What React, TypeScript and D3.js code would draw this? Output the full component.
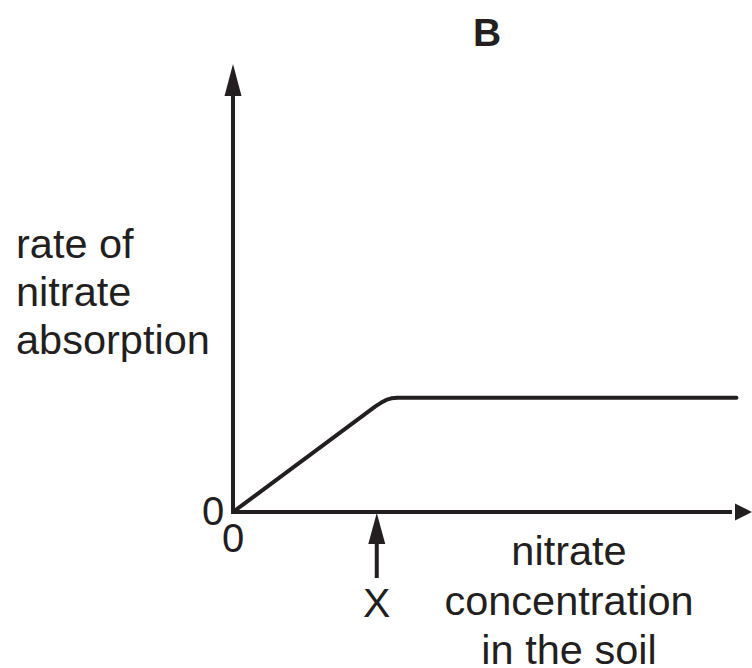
import * as d3 from 'd3';

// curve (arbitrary units)
const concentration = [0, 2.75, 2.85, 2.95, 3.05, 3.17, 9.7];
const absorption = [0, 0.2362, 0.2437, 0.2502, 0.2538, 0.255, 0.255];
const markX = 2.77;
const title = 'B';
const yLabel = ['rate of', 'nitrate', 'absorption'];
const xLabel = ['nitrate', 'concentration', 'in the soil'];

const W = 752;
const H = 668;
const ink = '#231f20';
const font = '"Liberation Sans", Arial, sans-serif';

function App() {
  const x = d3.scaleLinear().domain([0, 10]).range([233, 752]);
  const y = d3.scaleLinear().domain([0, 1]).range([512, 64]);

  const pts = concentration.map((c, i) => [c, absorption[i]] as [number, number]);
  const line = d3
    .line<[number, number]>()
    .x(d => x(d[0]))
    .y(d => y(d[1]));

  const x0 = x(0);
  const y0 = y(0);
  const xm = x(markX);

  return (
    <svg
      width={W}
      height={H}
      style={{ position: 'absolute', left: 0, top: 0, background: '#fff' }}
      fontFamily={font}
      fill={ink}
    >
      <text x={487} y={46} fontSize={39} fontWeight="bold" textAnchor="middle">
        {title}
      </text>

      {/* axes */}
      <line x1={x0} y1={y0 + 2} x2={x0} y2={y(1) + 30} stroke={ink} strokeWidth={4} />
      <path d={`M${x0},${y(1)} L${x0 - 8.5},${y(1) + 32} L${x0 + 8.5},${y(1) + 32} Z`} />
      <line x1={x0 - 2} y1={y0} x2={x(10) - 20} y2={y0} stroke={ink} strokeWidth={4} />
      <path d={`M${x(10)},${y0} L${x(10) - 17},${y0 - 8.5} L${x(10) - 17},${y0 + 8.5} Z`} />

      {/* curve */}
      <path d={line(pts) ?? ''} fill="none" stroke={ink} strokeWidth={4} strokeLinejoin="round" strokeLinecap="round" />

      {/* zero labels */}
      <text x={x0 - 20} y={y0 + 13} fontSize={40} textAnchor="middle">0</text>
      <text x={x0} y={y0 + 40} fontSize={40} textAnchor="middle">0</text>

      {/* X marker */}
      <line x1={xm} y1={578} x2={xm} y2={540} stroke={ink} strokeWidth={4} />
      <path d={`M${xm},${y0 + 1} L${xm - 8.5},${y0 + 32} L${xm + 8.5},${y0 + 32} Z`} />
      <text x={xm} y={617} fontSize={41} textAnchor="middle">X</text>

      {yLabel.map((t, i) => (
        <text key={t} x={16} y={258 + i * 48} fontSize={41.5}>{t}</text>
      ))}
      {xLabel.map((t, i) => (
        <text key={t} x={569} y={565 + i * 49.5} fontSize={41.5} textAnchor="middle">{t}</text>
      ))}
    </svg>
  );
}

export default App;
